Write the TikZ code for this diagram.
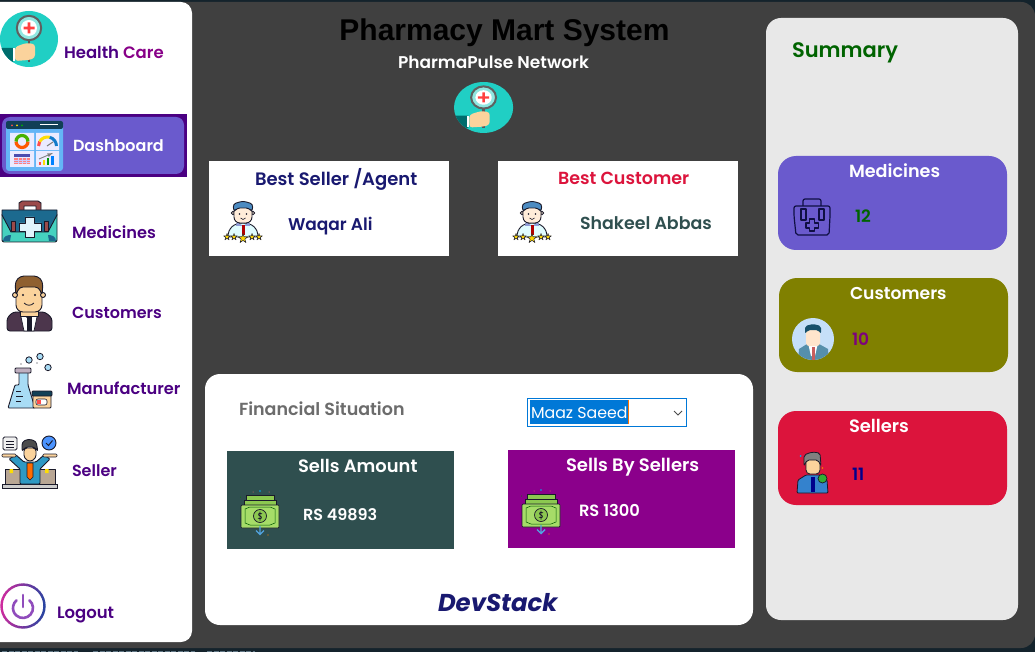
\documentclass[tikz,border=0pt]{standalone}
\usepackage{fontspec}
\setmainfont{Poppins}
\newfontfamily\semi{Poppins SemiBold}
\newfontfamily\reg{Poppins}
\newfontfamily\titlef{Liberation Sans}
\newfontfamily\devf{Poppins Bold Italic}
\definecolor{dark}{HTML}{404040}
\definecolor{navyb}{HTML}{14232C}
\definecolor{slate}{HTML}{6A5ACD}
\definecolor{indigoc}{HTML}{4B0082}
\definecolor{midn}{HTML}{191970}
\definecolor{crim}{HTML}{DC143C}
\definecolor{dsg}{HTML}{2F4F4F}
\definecolor{dmag}{HTML}{8B008B}
\definecolor{olv}{HTML}{808000}
\definecolor{panelg}{HTML}{E8E8E8}
\definecolor{tealc}{HTML}{20CFC4}
\definecolor{winblue}{HTML}{0078D7}
\definecolor{outl}{HTML}{1A1A2A}
\definecolor{skin}{HTML}{FBD39C}
\definecolor{note}{HTML}{A6DC68}
\definecolor{noted}{HTML}{8CC850}
\definecolor{flap}{HTML}{1C6A8F}
\definecolor{bodyt}{HTML}{45D2BF}
\definecolor{strapr}{HTML}{9B4A4A}
\definecolor{flask}{HTML}{A8DCF5}
\definecolor{avbg}{HTML}{C5DFF8}
\definecolor{dashbg}{HTML}{64B5F6}
\tikzset{
 lbl/.style={anchor=mid west,inner sep=0pt,outer sep=0pt,yshift=-3.7pt,font=\semi},
 sz/.style={font=\semi\fontsize{#1}{#1}\selectfont},
 ol/.style={draw=outl,line width=.9pt,line join=round,line cap=round},
}
\newcommand{\starp}[3]{\filldraw[shift={(#1,#2)},scale=#3,fill=yellow!75!orange,draw=outl,line width=.5pt,line join=round]
 (0,-1)--(.22,-.31)--(.95,-.31)--(.36,.12)--(.59,.81)--(0,.38)--(-.59,.81)--(-.36,.12)--(-.95,-.31)--(-.22,-.31)--cycle;}
% magnifier logo, local frame 58x56
\newcommand{\logoicon}{
 \fill[tealc] (29,28) ellipse [x radius=29,y radius=28];
 \begin{scope}
 \clip (29,28) ellipse [x radius=29,y radius=28];
 \fill[teal!85!black] (0,37)--(14,37)--(14,50)--(0,56)--cycle;
 \end{scope}
 \fill[white] (13,37) rectangle (15,50);
 \draw[gray!70!black,line width=2.2pt] (29,28)--(29,51);
 \fill[tealc!50!white] (29,17) circle (11.5);
 \fill[white] (29,17) circle (8);
 \draw[gray!75!black,line width=2pt] (29,17) circle (12.2);
 \fill[red!75!white] (27.7,11.5) rectangle (30.3,22.5) (23.5,15.7) rectangle (34.5,18.3);
 \fill[skin,rounded corners=3pt] (15,36) -- (26,32) -- (35,33) -- (35,47) -- (29,49) -- (15,50) -- cycle;
}
\newcommand{\moneyicon}{
 \filldraw[fill=noted,draw=outl,line width=.7pt] (5,5) rectangle (33,15);
 \filldraw[fill=noted,draw=outl,line width=.7pt] (3,10) rectangle (35,15);
 \filldraw[fill=note,draw=outl,line width=.7pt,rounded corners=1pt] (0,15) rectangle (38,38);
 \draw[green!35!black,line width=.5pt] (4,19)--(9,17)--(29,17)--(34,19)--(34,33)--(29,35)--(9,35)--(4,33)--cycle;
 \filldraw[fill=noted,draw=outl,line width=.7pt] (19,26) circle (6.5);
 \draw[outl,line width=.7pt] (19,21.5)--(19,30.5) (21,23.8) .. controls (17,22) and (16.5,25.5) .. (19,26) .. controls (21.5,26.5) and (21,30) .. (17,28.2);
 \draw[cyan!70!blue!70!white,line width=1.4pt] (19,36)--(19,44) (15,40.5)--(19,44.5)--(23,40.5);
 \fill[cyan] (19,1) circle (.9);
 \fill[red!60!white] (12,2) circle (.5) (28,2) circle (.5);
 \fill[orange] (27,45) circle (.6);
 \fill[green!50!black] (-.5,7) circle (.5);
}
\newcommand{\agenticon}{
 \filldraw[fill=blue!10!cyan!12!white,ol] (5,36) .. controls (5,27) and (11,22) .. (20,22) .. controls (29,22) and (35,27) .. (35,36) -- cycle;
 \fill[cyan!30!blue!45!white] (14,21)--(20,25)--(26,21)--(27,25)--(13,25)--cycle;
 \fill[red!70!black] (18.6,24) rectangle (21.8,34);
 \filldraw[fill=orange!15!white,ol] (10,12) circle (1.8) (30,12) circle (1.8);
 \filldraw[fill=orange!15!white,ol,rounded corners=6pt] (11,5) -- (29,5) -- (29,22) -- (11,22) -- cycle;
 \filldraw[fill=blue!30!teal!70,ol,rounded corners=3pt] (11,11) -- (10,3) -- (20,0) -- (30,3) -- (29,11) -- (26,7) -- (14,7) -- cycle;
 \fill[outl] (16.5,13) circle (.9) (23.5,13) circle (.9);
 \draw[outl,line width=.6pt] (17.5,17) .. controls (19,19) and (21,19) .. (22.5,17);
 \starp{4}{36}{3.5}\starp{11}{36}{3.5}\starp{29}{36}{3.5}\starp{36}{36}{3.5}\starp{20}{37.5}{5}
}
\begin{document}
\begin{tikzpicture}[x=1pt,y=-1pt]
\useasboundingbox (0,0) rectangle (1035,652);
\fill[navyb] (0,0) rectangle (1035,652);
\draw[gray!50!cyan!50!navyb,line width=.9pt,dash pattern=on 5pt off 1.5pt] (2,651)--(78,651) (93,651)--(195,651) (207,651)--(255,651);
\fill[dark,rounded corners=14pt] (-20,2) rectangle (1035,648);
\fill[dark] (0,2) rectangle (100,648);
% sidebar
\fill[white,rounded corners=11pt] (-20,2) rectangle (192,642);
% dashboard button
\fill[indigoc] (0,114) rectangle (187,177);
\fill[slate,rounded corners=8pt] (2,117) rectangle (184,174);
% logo top
\begin{scope}[shift={(0,11)}]\logoicon\end{scope}
% dashboard icon
\begin{scope}
 \fill[dashbg,rounded corners=3pt] (6,121) rectangle (63,171);
 \fill[flap!60!black,rounded corners=2pt] (6,121) rectangle (63,129);
 \fill[red!70!white] (12,125.5) circle (1);
 \fill[yellow!80!orange] (17,125.5) circle (1);
 \fill[green!70!black] (22,125.5) circle (1);
 \draw[white,line width=1pt] (40,125)--(58,125);
 \fill[blue!8!white] (10,133) rectangle (34,150) (36,133) rectangle (59,150) (10,151) rectangle (34,167) (36,151) rectangle (59,167);
 \draw[orange!70!red,line width=3.2pt] (28,141.5) arc[start angle=0,end angle=180,radius=6];
 \draw[green!60!yellow!70!black,line width=3.2pt] (16,141.5) arc[start angle=180,end angle=360,radius=6];
 \draw[red!70!white,line width=3pt] (38.5,146) arc[start angle=180,end angle=210,radius=9];
 \draw[yellow!80!orange,line width=3pt] (39.7,141.5) arc[start angle=210,end angle=285,radius=9];
 \draw[cyan!60!blue,line width=3pt] (49.8,137.3) arc[start angle=285,end angle=360,radius=9];
 \draw[gray,line width=1pt] (47,146)--(53,142);
 \fill[blue!55!black!70] (14,154) rectangle (30,157);
 \fill[red!50!white] (14,158) rectangle (30,164);
 \draw[blue!20!white,line width=.5pt] (14,160)--(30,160) (14,162)--(30,162) (18,158)--(18,164) (22,158)--(22,164) (26,158)--(26,164);
 \fill[red!70!white] (39,162) rectangle (41,165);
 \fill[yellow!80!orange] (43,160) rectangle (45,165);
 \fill[green!60!black] (47,158) rectangle (49,165);
 \fill[blue!50!cyan] (51,156) rectangle (54,165);
 \draw[gray,line width=.9pt,-latex] (39,159)--(53,153);
\end{scope}
% medicines case
\begin{scope}
 \filldraw[fill=strapr,ol] (19,212) -- (19,203) -- (22,201) -- (38,201) -- (41,203) -- (41,212) -- (36,212) -- (36,206) -- (24,206) -- (24,212) -- cycle;
 \filldraw[fill=bodyt,ol,rounded corners=2pt] (2,213) -- (57,213) -- (57,242) -- (2,242) -- cycle;
 \filldraw[fill=flap,ol] (2,210) -- (57,210) -- (57,215) -- (48,232) -- (11,232) -- (2,215) -- cycle;
 \filldraw[fill=strapr,ol] (11,221) rectangle (15,231) (44,221) rectangle (48,231);
 \filldraw[fill=cyan!12!white,ol] (25,217) -- (34,217) -- (34,223) -- (41,223) -- (41,231) -- (34,231) -- (34,237) -- (25,237) -- (25,231) -- (19,231) -- (19,223) -- (25,223) -- cycle;
 \fill[flap] (3,241) .. controls (3,236) and (8,235) .. (11,235) -- (10,241) -- cycle (56,241) .. controls (56,236) and (51,235) .. (48,235) -- (49,241) -- cycle;
\end{scope}
% customers man
\begin{scope}
 \filldraw[fill=gray!70!violet!60!black,ol,rounded corners=3pt] (7,331) -- (7,318) -- (13,312) -- (45,312) -- (52,318) -- (52,331) -- cycle;
 \filldraw[fill=white,draw=outl,line width=.7pt] (20,312) -- (29,319) -- (38,312) -- (34,331) -- (24,331) -- cycle;
 \fill[outl] (26.5,317) rectangle (31.5,331);
 \filldraw[fill=skin,ol] (20,306) rectangle (38,316);
 \filldraw[fill=skin,ol,rounded corners=7pt] (16,284) -- (42,284) -- (42,312) -- (16,312) -- cycle;
 \filldraw[fill=skin,ol] (15,295) circle (2.5) (43,295) circle (2.5);
 \filldraw[fill=brown!75!black,ol,rounded corners=4pt] (16,296) -- (15,282) -- (20,276) -- (38,276) -- (43,282) -- (42,296) -- (39,287) -- (19,287) -- cycle;
 \fill[outl] (23,295) circle (1.2) (35,295) circle (1.2);
 \draw[outl,line width=.8pt] (24,303) .. controls (27,306) and (31,306) .. (34,303);
\end{scope}
% manufacturer
\begin{scope}
 \filldraw[fill=flask,ol,rounded corners=1pt] (19,370) -- (28,370) -- (28,385) -- (35,408) -- (8,408) -- (15,385) -- (19,385) -- cycle;
 \filldraw[fill=violet!25!gray!50!white,ol,rounded corners=1pt] (15,368) rectangle (31,373);
 \draw[outl,line width=.9pt] (16,391)--(21,391) (16,396)--(23,396) (16,401)--(21,401);
 \filldraw[fill=skin,ol,rounded corners=1pt] (33,393) rectangle (51,408);
 \filldraw[fill=flap!60!black,ol,rounded corners=1pt] (32,391) rectangle (52,396);
 \filldraw[fill=white,draw=outl,line width=.6pt,rounded corners=2pt] (36,399) rectangle (47,405);
 \fill[red!70!white] (37,400) rectangle (41,404);
 \filldraw[fill=flask,draw=outl,line width=.8pt] (29,360) circle (3.2) (40,356.5) circle (3.2) (48,367.5) circle (3.2);
 \fill[outl] (21,364) circle (.7) (37,363) circle (.6);
\end{scope}
% seller
\begin{scope}
 \filldraw[fill=brown!40!gray!70!white,ol] (5,469) rectangle (20,485) (39,469) rectangle (55,485);
 \fill[yellow!80!orange] (9.5,469) rectangle (13,473) (45,469) rectangle (48.5,473);
 \filldraw[fill=gray!40!white,draw=outl,line width=.8pt] (2,484) rectangle (57,488);
 \filldraw[fill=cyan!55!teal,ol,rounded corners=1pt] (20,484) -- (20,469) -- (9,459) -- (16,455) -- (24,462) -- (36,462) -- (44,455) -- (50,459) -- (40,469) -- (40,484) -- cycle;
 \filldraw[fill=orange!85!red,draw=outl,line width=.7pt] (27,463) -- (33,463) -- (33,477) -- (30,480) -- (27,477) -- cycle;
 \filldraw[fill=skin,ol,rounded corners=3pt] (24,448) -- (36,448) -- (36,458) -- (30,462) -- (24,458) -- cycle;
 \filldraw[fill=gray!60!black,ol,rounded corners=3pt] (22,452) -- (22,442) -- (28,439) -- (36,441) -- (38,452) -- (35,447) -- (25,447) -- cycle;
 \filldraw[fill=skin,draw=outl,line width=.7pt,rounded corners=1pt] (2,454) -- (16,454) -- (16,457) -- (2,457) -- cycle (43,454) -- (57,454) -- (57,457) -- (43,457) -- cycle;
 \filldraw[fill=gray!12!white,ol,rounded corners=1.5pt] (3,437) rectangle (17,450);
 \draw[outl,line width=.8pt] (6,441)--(14,441) (6,444)--(14,444) (6,447)--(14,447);
 \filldraw[fill=blue!60!cyan!70,ol] (49,443) circle (7);
 \draw[outl,line width=1pt] (46,443)--(48.5,445.5)--(52.5,440.5);
\end{scope}
% logout
\foreach \a in {0,10,...,350}{
 \pgfmathtruncatemacro{\p}{50-48*cos(\a)}
 \draw[magenta!\p!blue!85!cyan,line width=2.4pt] ({23+21.5*cos(\a)},{606+21.5*sin(\a)}) arc[start angle=\a,end angle=\a+11,radius=21.5];
}
\draw[violet!75!blue!70!white,line width=2.6pt,line cap=round] (23,595)--(23,607);
\draw[violet!75!blue!70!white,line width=2.6pt,line cap=round] (29.4,600.3) arc[start angle=-50,end angle=230,radius=10];
% sidebar text
\node[lbl,text=indigoc,sz=16.5] (hc) at (64,52.5) {Health \textcolor{dmag!70!violet}{Care}};
\node[lbl,text=white,sz=16] (db) at (73,145) {Dashboard};
\node[lbl,text=indigoc,sz=16.2] (me) at (72,232) {Medicines};
\node[lbl,text=indigoc,sz=16] (cu) at (72,312) {Customers};
\node[lbl,text=indigoc,sz=16.2] (ma) at (67,388) {Manufacturer};
\node[lbl,text=indigoc,sz=16] (se) at (72,470) {Seller};
\node[lbl,text=indigoc,sz=16.5] (lo) at (57,612) {Logout};
% header
\node[anchor=mid,inner sep=0pt,yshift=-7pt,font=\titlef\bfseries\fontsize{30}{30}\selectfont,text=black] (title) at (504.5,31) {Pharmacy Mart System};
\node[anchor=mid,inner sep=0pt,yshift=-3.7pt,sz=17,text=white] (sub) at (493.5,62) {PharmaPulse Network};
\begin{scope}[shift={(454,82)},xscale=1.02,yscale=.91]\logoicon\end{scope}
% best cards
\fill[white] (209,161) rectangle (449,256);
\fill[white] (498,161) rectangle (738,256);
\node[lbl,text=midn,sz=18] (bs) at (255,179) {Best Seller /Agent};
\node[lbl,text=midn,sz=17] (wa) at (288,224) {Waqar Ali};
\node[lbl,text=crim,sz=17.5] (bc) at (558,178) {Best Customer};
\node[lbl,text=dsg,sz=17.4] (sa) at (580,223) {Shakeel Abbas};
\begin{scope}[shift={(223,201)}]\agenticon\end{scope}
\begin{scope}[shift={(512,201)}]\agenticon\end{scope}
% financial panel
\fill[white,rounded corners=15pt] (205,374) rectangle (753,625);
\node[lbl,text=gray!85!black,sz=17.5] (fs) at (239,409) {Financial Situation};
\draw[winblue,line width=1pt,fill=white] (527.5,398.5) rectangle (686.5,426.5);
\fill[winblue] (530,400) rectangle (628,424);
\fill[orange!90!red] (628,400) rectangle (629,424);
\node[lbl,text=white,font=\reg\fontsize{15.8}{16}\selectfont] (mz) at (531,412.5) {Maaz Saeed};
\draw[gray!60!black,line width=.8pt] (674,411)--(678,415)--(682,411);
\fill[dsg] (227,451) rectangle (454,549);
\fill[dmag] (508,450) rectangle (735,548);
\node[lbl,text=white,sz=17.9] (sam) at (298,466) {Sells Amount};
\node[lbl,text=white,sz=16] (rs1) at (303,514) {RS 49893};
\node[lbl,text=white,sz=18] (sbs) at (566,465) {Sells By Sellers};
\node[lbl,text=white,sz=16.3] (rs2) at (579,510) {RS 1300};
\begin{scope}[shift={(241,490)}]\moneyicon\end{scope}
\begin{scope}[shift={(522,489)}]\moneyicon\end{scope}
\node[lbl,text=midn,font=\devf\fontsize{24.4}{24}\selectfont] (dev) at (438,605) {DevStack};
% summary
\fill[panelg,rounded corners=15pt] (766,18) rectangle (1018,620);
\node[lbl,text=green!39!black,sz=21,yshift=-1pt] (sum) at (792,50) {Summary};
\fill[slate,rounded corners=18pt] (778,156) rectangle (1007,250);
\fill[olv,rounded corners=18pt] (779,278) rectangle (1008,372);
\fill[crim,rounded corners=18pt] (778,411) rectangle (1007,505);
\node[lbl,text=white,sz=17.6] (m2) at (849,171) {Medicines};
\node[lbl,text=white,sz=17.2] (c2) at (850,293) {Customers};
\node[lbl,text=white,sz=17.9] (s2) at (849,426) {Sellers};
\node[lbl,text=green!39!black,sz=17] (n1) at (855,216) {12};
\node[lbl,text=dmag!90!black,sz=17] (n2) at (852,339) {10};
\node[lbl,text=blue!55!black,sz=17] (n3) at (852,474) {11};
% summary icons
\begin{scope}[draw=midn!60!black,line width=1.2pt,line join=round]
 \draw[rounded corners=2pt] (803,206) -- (803,199) -- (821,199) -- (821,206);
 \draw[rounded corners=2pt] (794,206) -- (830,206) -- (830,216) -- (829,235) -- (796,235) -- (794,216) -- cycle;
 \draw (801,209) rectangle (806,220) (819,209) rectangle (824,220);
 \draw (809.5,219) -- (814.5,219) -- (814.5,223) -- (818.5,223) -- (818.5,228) -- (814.5,228) -- (814.5,231) -- (809.5,231) -- (809.5,228) -- (806,228) -- (806,223) -- (809.5,223) -- cycle;
\end{scope}
\fill[avbg] (813,339) circle (21);
\begin{scope}
 \clip (813,339) circle (21);
 \fill[flap!75!white] (798,362) -- (799,349) -- (807,344) -- (819,344) -- (828,349) -- (829,362) -- cycle;
 \fill[white] (808,343) -- (818,343) -- (815,356) -- (811,356) -- cycle;
 \fill[red!50!gray!85!white] (811.5,347) rectangle (814.5,360);
 \fill[orange!20!white,rounded corners=3pt] (806,328) rectangle (820,346);
 \fill[flap!75!black,rounded corners=2pt] (805,334) -- (805,326) -- (813,324) -- (821,326) -- (821,334) -- (818,330) -- (808,330) -- cycle;
\end{scope}
\begin{scope}
 \filldraw[fill=cyan!55!blue!85,draw=outl,line width=.8pt,rounded corners=1pt] (797,493) -- (798,480) -- (806,475) -- (820,475) -- (827,480) -- (828,493) -- cycle;
 \fill[blue!55!black] (811,477) rectangle (815,492);
 \filldraw[fill=skin,draw=outl,line width=.8pt,rounded corners=4pt] (806,458) -- (820,458) -- (820,474) -- (806,474) -- cycle;
 \filldraw[fill=gray,draw=outl,line width=.8pt,rounded corners=2pt] (804,466) -- (804,455) -- (812,452) -- (820,453) -- (821,466) -- (818,460) -- (807,460) -- cycle;
 \filldraw[fill=green!60!black!80,draw=outl,line width=.7pt] (822.5,478.5) circle (4.5);
 \fill[cyan] (800.5,456) circle (1);
 \fill[orange] (822.5,468) circle (.8);
\end{scope}
\end{tikzpicture}
\end{document}
